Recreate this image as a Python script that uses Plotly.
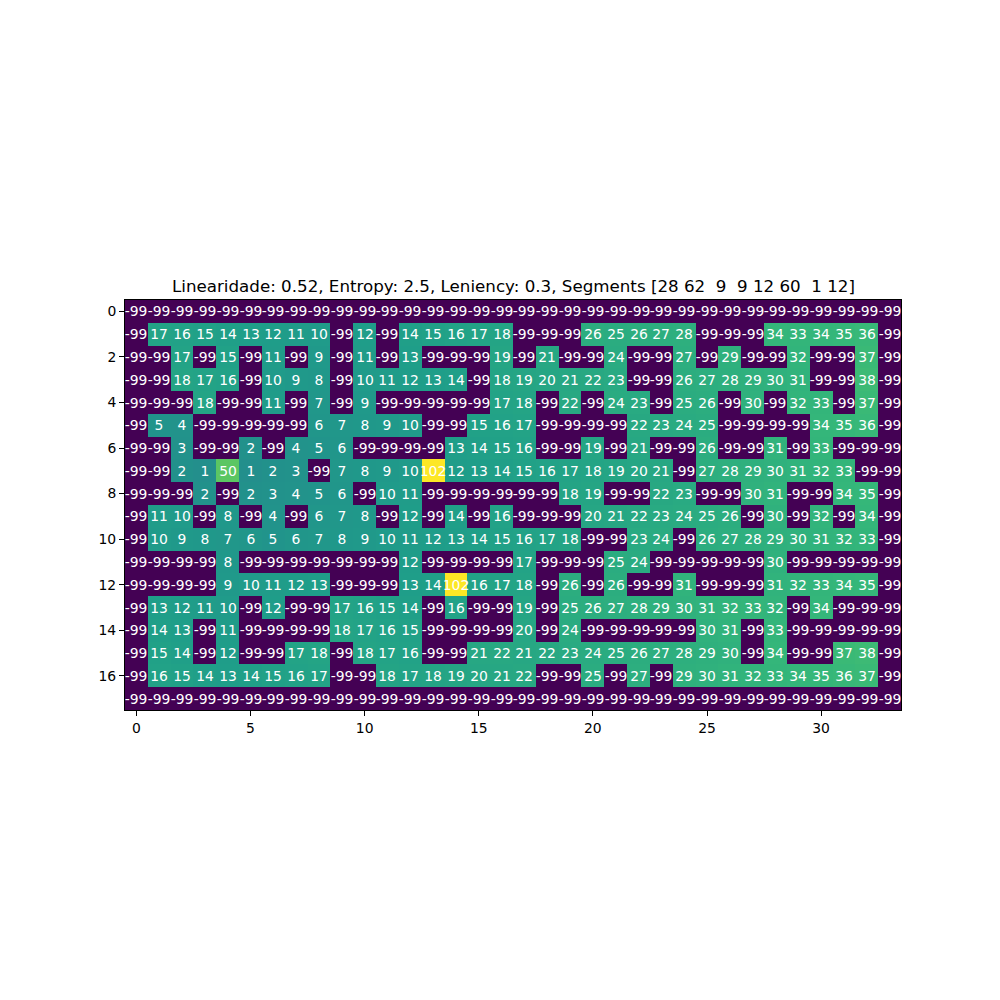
import plotly.graph_objects as go

N = -99
row_00 = [N]*34
row_01 = [N,17,16,15,14,13,12,11,10,N,12,N,14,15,16,17,18,N,N,N,26,25,26,27,28,N,N,N,34,33,34,35,36,N]
row_02 = [N,N,17,N,15,N,11,N,9,N,11,N,13,N,N,N,19,N,21,N,N,24,N,N,27,N,29,N,N,32,N,N,37,N]
row_03 = [N,N,18,17,16,N,10,9,8,N,10,11,12,13,14,N,18,19,20,21,22,23,N,N,26,27,28,29,30,31,N,N,38,N]
row_04 = [N,N,N,18,N,N,11,N,7,N,9,N,N,N,N,N,17,18,N,22,N,24,23,N,25,26,N,30,N,32,33,N,37,N]
row_05 = [N,5,4,N,N,N,N,N,6,7,8,9,10,N,N,15,16,17,N,N,N,N,22,23,24,25,N,N,N,N,34,35,36,N]
row_06 = [N,N,3,N,N,2,N,4,5,6,N,N,N,N,13,14,15,16,N,N,19,N,21,N,N,26,N,N,31,N,33,N,N,N]
row_07 = [N,N,2,1,50,1,2,3,N,7,8,9,10,102,12,13,14,15,16,17,18,19,20,21,N,27,28,29,30,31,32,33,N,N]
row_08 = [N,N,N,2,N,2,3,4,5,6,N,10,11,N,N,N,N,N,N,18,19,N,N,22,23,N,N,30,31,N,N,34,35,N]
row_09 = [N,11,10,N,8,N,4,N,6,7,8,N,12,N,14,N,16,N,N,N,20,21,22,23,24,25,26,N,30,N,32,N,34,N]
row_10 = [N,10,9,8,7,6,5,6,7,8,9,10,11,12,13,14,15,16,17,18,N,N,23,24,N,26,27,28,29,30,31,32,33,N]
row_11 = [N,N,N,N,8,N,N,N,N,N,N,N,12,N,N,N,N,17,N,N,N,25,24,N,N,N,N,N,30,N,N,N,N,N]
row_12 = [N,N,N,N,9,10,11,12,13,N,N,N,13,14,102,16,17,18,N,26,N,26,N,N,31,N,N,N,31,32,33,34,35,N]
row_13 = [N,13,12,11,10,N,12,N,N,17,16,15,14,N,16,N,N,19,N,25,26,27,28,29,30,31,32,33,32,N,34,N,N,N]
row_14 = [N,14,13,N,11,N,N,N,N,18,17,16,15,N,N,N,N,20,N,24,N,N,N,N,N,30,31,N,33,N,N,N,N,N]
row_15 = [N,15,14,N,12,N,N,17,18,N,18,17,16,N,N,21,22,21,22,23,24,25,26,27,28,29,30,N,34,N,N,37,38,N]
row_16 = [N,16,15,14,13,14,15,16,17,N,N,18,17,18,19,20,21,22,N,N,25,N,27,N,29,30,31,32,33,34,35,36,37,N]
row_17 = [N]*34

grid = [row_00, row_01, row_02, row_03, row_04, row_05, row_06, row_07, row_08,
        row_09, row_10, row_11, row_12, row_13, row_14, row_15, row_16, row_17]

x_ticks = [0, 5, 10, 15, 20, 25, 30]
y_ticks = [0, 2, 4, 6, 8, 10, 12, 14, 16]
title_text = "Linearidade: 0.52, Entropy: 2.5, Leniency: 0.3, Segments [28 62  9  9 12 60  1 12]"

ncols = len(grid[0])
nrows = len(grid)

fig = go.Figure(go.Heatmap(
    z=grid,
    x=list(range(ncols)),
    y=list(range(nrows)),
    text=[[str(v) for v in r] for r in grid],
    texttemplate="%{text}",
    textfont=dict(family="DejaVu Sans", size=13.9, color="white"),
    colorscale="Viridis",
    zmin=min(min(r) for r in grid),
    zmax=max(max(r) for r in grid),
    showscale=False,
    hoverinfo="skip",
))

axis_common = dict(
    showgrid=False, zeroline=False,
    showline=True, mirror=True, linecolor="black", linewidth=1,
    ticks="outside", ticklen=5, tickwidth=1, tickcolor="black",
    tickfont=dict(family="DejaVu Sans", size=13.9, color="black"),
)

fig.update_layout(
    width=1000, height=1000,
    margin=dict(l=125, r=99, t=300, b=290),
    paper_bgcolor="white", plot_bgcolor="white",
    xaxis=dict(range=[-0.5, ncols - 0.5], tickvals=x_ticks, **axis_common),
    yaxis=dict(range=[nrows - 0.5, -0.5], tickvals=y_ticks, **axis_common),
    annotations=[dict(
        text=title_text, xref="paper", yref="paper", x=0.5, y=1,
        xanchor="center", yanchor="bottom", yshift=2, showarrow=False,
        font=dict(family="DejaVu Sans", size=16.7, color="black"),
    )],
)

fig.write_html("out.html")
